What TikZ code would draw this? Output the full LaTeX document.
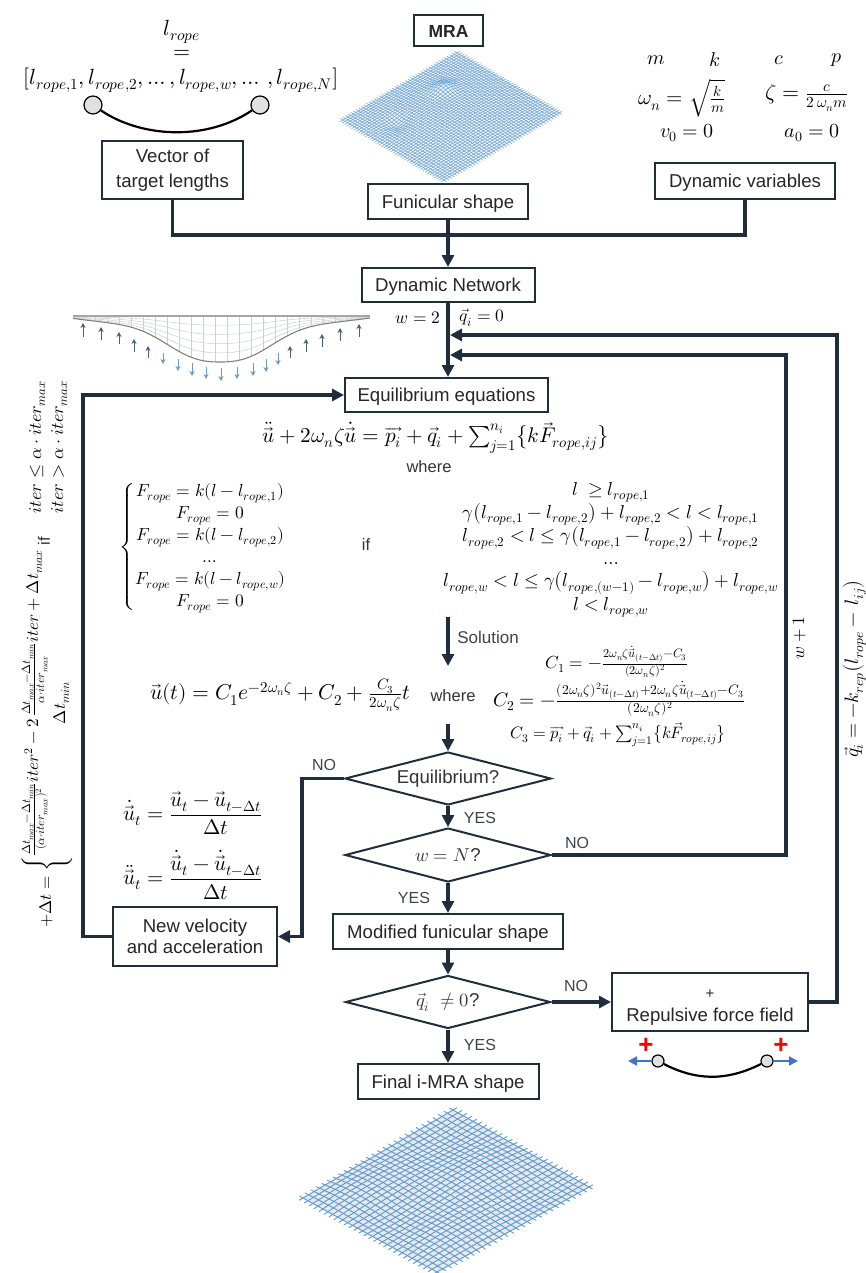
\documentclass[tikz,border=0pt]{standalone}
\usepackage{amsmath}
\usepackage{fontspec}
\usepackage{unicode-math}
\setmainfont{Liberation Sans}
\setmathfont{Latin Modern Math}
\usetikzlibrary{arrows.meta,shapes.geometric}
\definecolor{navy}{HTML}{1F2D3D}
\definecolor{labelc}{HTML}{3A444E}
\definecolor{meshb}{HTML}{5E9CD6}
\definecolor{secline}{HTML}{C8D0D8}
\definecolor{upc}{HTML}{46607A}
\definecolor{downc}{HTML}{6B9AC4}
\definecolor{bluearr}{HTML}{4472C4}
\newcommand{\fs}[1]{\fontsize{#1}{#1}\selectfont}
\newcommand{\rp}{\symit{rope}}
\newcommand{\lr}[1]{l_{\symit{rope},#1}}
\newcommand{\itr}{\symit{iter}}
\newcommand{\tmax}{\Delta t_{\symit{max}}}
\newcommand{\tmin}{\Delta t_{\symit{min}}}
\newcommand{\drawmesh}[2]{%
  \foreach \i in {0,...,#1}{%
    \pgfmathsetmacro\uu{\i/#1}%
    \draw[meshline,line width=#2] plot[domain=-0.025:1.025,samples=24,smooth] ({fx(\uu,\x)},{fy(\uu,\x)});
    \draw[meshline,line width=#2] plot[domain=-0.025:1.025,samples=24,smooth] ({fx(\x,\uu)},{fy(\x,\uu)});
  }}
\tikzset{
  x=1pt,y=-1pt,
  boxn/.style={draw=navy,line width=2pt,fill=white,align=center,font=\fs{18.6},text=black!85,inner sep=0pt,minimum height=#1},
  boxn/.default=35pt,
  oneline/.style={text height=13pt,text depth=0pt},
  dec/.style={diamond,draw=navy,line width=2pt,fill=white,aspect=3.85,font=\fs{18.6},inner sep=0pt,text=black!80},
  flow/.style={draw=navy,line width=3.2pt,-{Triangle[length=12pt,width=12pt]}},
  lab/.style={font=\fs{16},text=labelc,inner sep=0pt},
  eqn/.style={inner sep=0pt,font=\fs{20}},
  meshline/.style={draw=meshb,line cap=round},
  upa/.style={draw=#1,line width=1pt,-{Stealth[length=5pt,width=5pt]}},
  ropeline/.style={draw=black,line width=2.2pt},
  rend/.style={circle,draw=black,line width=1.2pt,fill=black!12,inner sep=0pt,minimum size=#1},
  wordlab/.style={font=\fs{16.5},text=black!80,inner sep=0pt},
}
\begin{document}
\begin{tikzpicture}
\useasboundingbox (0,0) rectangle (865,1273);

% ---- MRA mesh
\begin{scope}[opacity=0.85,declare function={
  fx(\u,\v)=(1-\u)*(1-\v)*457+\u*(1-\v)*559+(1-\u)*\v*343+\u*\v*444;
  fy(\u,\v)=(1-\u)*(1-\v)*53+\u*(1-\v)*113+(1-\u)*\v*120+\u*\v*180
     -3*sin(180*\u)*sin(180*\v)
     -5*exp(-((\u-0.25)^2+(\v-0.34)^2)/0.006)
     +3*exp(-((\u-0.30)^2+(\v-0.80)^2)/0.006);}]
  \fill[black!5] (457,53) -- (559,113) -- (444,180) -- (343,120) -- cycle;
  \drawmesh{44}{0.6pt}
\end{scope}
% ---- final mesh
\begin{scope}[declare function={
  fx(\u,\v)=(1-\u)*(1-\v)*453+\u*(1-\v)*589+(1-\u)*\v*303+\u*\v*437;
  fy(\u,\v)=(1-\u)*(1-\v)*1110+\u*(1-\v)*1187+(1-\u)*\v*1198+\u*\v*1272
     -3*sin(180*\u)*sin(180*\v)+1.5*sin(540*\u)*sin(360*\v);}]
  \fill[black!9] (453,1110) -- (589,1187) -- (437,1272) -- (303,1198) -- cycle;
  \drawmesh{27}{0.95pt}
\end{scope}

% ---- section sketch
\begin{scope}[declare function={prof(\x)=318+34*exp(-(abs(\x-220)/62)^2.6)+10*(1-((\x-220)/150)^2);}]
  \begin{scope}
    \clip plot[domain=73:370,samples=50] (\x,{prof(\x)}) -- (370,316) -- (73,316) -- cycle;
    \foreach \vx in {83,95,...,370}{\draw[secline,line width=0.5pt] (\vx,316) -- (\vx,370);}
  \end{scope}
  \foreach \tt in {0.2,0.4,0.6,0.8}{
    \draw[secline,line width=0.5pt] plot[domain=73:370,samples=40] (\x,{316+\tt*(prof(\x)-316)});}
  \draw[gray,line width=1.1pt] plot[domain=73:370,samples=50] (\x,{prof(\x)});
  \draw[gray!70,line width=1.8pt] (73,316) -- (370,316);
\end{scope}
\foreach \ax/\ya/\yb in {83/337/323,101/340/327,119/344/332,134/352/339,148/358/346,290/358/346,306/352/339,322/347/334,340/341/328,359/337/324}{
  \draw[upa=upc] (\ax,\ya) -- (\ax,\yb);}
\foreach \ax/\ya/\yb in {163/353/364,178/359/371,192/363/376,206/367/379,221/368/381,237/367/379,253/363/376,266/359/372,278/353/365}{
  \draw[upa=downc] (\ax,\ya) -- (\ax,\yb);}

% ---- boxes
\node[boxn=31pt,minimum width=69pt,font=\bfseries\fs{17.5}] (mra) at (448.5,31) {MRA};
\node[boxn=58pt,minimum width=141pt] (vec) at (172.5,170) {Vector of\\[6pt]target lengths};
\node[boxn=35pt,minimum width=160pt,oneline] (fun) at (448,202) {Funicular shape};
\node[boxn=36pt,minimum width=180pt,oneline] (dyv) at (745,181) {Dynamic variables};
\node[boxn=34pt,minimum width=173pt,oneline] (net) at (448,285) {Dynamic Network};
\node[boxn=34pt,minimum width=203pt,oneline] (equ) at (446.5,395) {Equilibrium equations};
\node[dec,minimum width=206pt,minimum height=53pt] (eqd) at (448,778.5) {Equilibrium?};
\node[dec,minimum width=206pt,minimum height=54pt] (wnd) at (448,855) {\(w=N\)?};
\node[boxn=35pt,minimum width=230pt,oneline] (mod) at (448,931.5) {Modified funicular shape};
\node[boxn=59pt,minimum width=164pt] (vel) at (195,936.5) {New velocity\\[3pt]and acceleration};
\node[dec,minimum width=205pt,minimum height=53pt] (qd) at (448,1002) {\(\vec q_i\ \neq 0\)?};
\node[boxn=58pt,minimum width=196pt] (rep) at (710,1002) {\rule{0pt}{20pt}\fs{15}+\\[4pt]Repulsive force field};
\node[boxn=35pt,minimum width=181pt,oneline] (fin) at (448,1081.5) {Final i-MRA shape};

% ---- free coordinates
\coordinate (j) at (448,235);
\coordinate (e1) at (450,335);
\coordinate (e2) at (450,355);
\coordinate (r1) at (786,355);
\coordinate (r1b) at (786,855);
\coordinate (r2) at (837,335);
\coordinate (r2b) at (837,1002);
\coordinate (l1) at (83,395);
\coordinate (l1b) at (83,936.5);
\coordinate (n1) at (302,778.5);
\coordinate (n1b) at (302,936.5);
\coordinate (s1) at (448,617);
\coordinate (s2) at (448,666);
\coordinate (s3) at (448,724);

% ---- connectors
\draw[draw=navy,line width=3.2pt] (vec.south) |- (j) -| (dyv.south);
\draw[flow] (fun.south) -- (net.north);
\draw[flow] (net.south) -- (equ.north -| net.south);
\draw[flow] (rep.east) -- (r2b) -- (r2) -- (e1);
\draw[flow] (wnd.east) -- (r1b) -- (r1) -- (e2);
\draw[flow] (vel.west) -- (l1b) -- (l1) -- (equ.west);
\draw[flow] (s1) -- (s2);
\draw[flow] (s3) -- (eqd.north);
\draw[flow] (eqd.west) -- (n1) -- (n1b) -- (vel.east);
\draw[flow] (eqd.south) -- (wnd.north);
\draw[flow] (wnd.south) -- (mod.north);
\draw[flow] (mod.south) -- (qd.north);
\draw[flow] (qd.east) -- (rep.west);
\draw[flow] (qd.south) -- (fin.north);

% ---- branch labels
\node[lab] (ln1) at (324,765) {NO};
\node[lab] (ly1) at (480,818) {YES};
\node[lab] (ln2) at (577,843) {NO};
\node[lab] (ly2) at (414,898) {YES};
\node[lab] (ln3) at (576,986) {NO};
\node[lab] (ly3) at (480,1045) {YES};
\node[lab,font=\fs{17}] (sol) at (488,637) {Solution};

% ---- rope top
\node[rend=18pt] (ra) at (93,105) {};
\node[rend=18pt] (rb) at (260,105) {};
\draw[ropeline] (ra) .. controls (140,137) and (205,142) .. (rb);
% ---- rope bottom
\node[rend=12pt] (rc) at (658,1061) {};
\node[rend=12pt] (rd) at (767,1061) {};
\draw[ropeline] (rc) .. controls (695,1080) and (725,1082) .. (rd);
\coordinate (ba) at (628,1061);
\coordinate (bb) at (798,1061);
\draw[draw=bluearr,line width=2pt,-{Triangle[length=9pt,width=9pt]}] (rc) -- (ba);
\draw[draw=bluearr,line width=2pt,-{Triangle[length=9pt,width=9pt]}] (rd) -- (bb);
\node[inner sep=0pt,text=red,font=\bfseries\fs{26}] (pa) at (646,1046) {+};
\node[inner sep=0pt,text=red,font=\bfseries\fs{26}] (pb) at (781,1046) {+};

% ---- top formulas
\node[eqn,font=\fs{22}] (t1) at (182,32) {\(l_{\rp}\)};
\node[eqn,font=\fs{22}] (t2) at (182,54) {\(=\)};
\node[eqn,font=\fs{22}] (t3) at (181,80) {\([\lr{1},\lr{2},\dots,\lr{w},\dots\,,\lr{N}]\)};
\node[eqn] (vm) at (656,60) {\(m\)};
\node[eqn] (vk) at (715,60) {\(k\)};
\node[eqn] (vc) at (779,60) {\(c\)};
\node[eqn] (vp) at (837,60) {\(p\)};
\node[eqn,font=\fs{21}] (om) at (682,98) {\(\omega_n=\sqrt{\frac{k}{m}}\)};
\node[eqn,font=\fs{22}] (ze) at (807,98) {\(\zeta=\frac{c}{2\,\omega_n m}\)};
\node[eqn] (v0) at (687,133) {\(v_0=0\)};
\node[eqn] (a0) at (812,133) {\(a_0=0\)};

% ---- flow labels
\node[eqn,font=\fs{17.5}] (w2) at (418,318) {\(w=2\)};
\node[eqn,font=\fs{17.5}] (q0) at (482,318) {\(\vec q_i=0\)};
\node[eqn,rotate=90,font=\fs{17.5}] (wp) at (799,638) {\(w+1\)};
\node[eqn,rotate=90,font=\fs{19.4}] (qf) at (854,669) {\(\vec q_i=-k_{\symit{rep}}\bigl(l_{\rp}-\,l_{ij}\bigr)\)};

% ---- equilibrium equations
\node[eqn,font=\fs{21.2}] (me) at (436,438) {\(\ddot{\vec u}+2\omega_n\zeta\dot{\vec u}=\overrightarrow{p_i}+\vec q_i+\sum_{j=1}^{n_i}\bigl\{k\vec F_{\rp,ij}\bigr\}\)};
\node[wordlab] (wh) at (429,467) {where};
\node[eqn,font=\fs{17.5}] (pl) at (203,547) {\(\renewcommand{\arraystretch}{1.26}\left\{\begin{array}{@{}c@{}}
  F_{\rp}=k(l-\lr{1})\\ F_{\rp}=0\\ F_{\rp}=k(l-\lr{2})\\ \dots\\ F_{\rp}=k(l-\lr{w})\\ F_{\rp}=0\end{array}\right.\)};
\node[wordlab] (ifa) at (366,545) {if};
\node[eqn,font=\fs{18.8}] (pr) at (611,548.5) {\(\renewcommand{\arraystretch}{1.18}\begin{array}{@{}c@{}}
  l\ \ge \lr{1}\\
  \gamma\bigl(\lr{1}-\lr{2}\bigr)+\lr{2}<l<\lr{1}\\
  \lr{2}<l\le\gamma\bigl(\lr{1}-\lr{2}\bigr)+\lr{2}\\
  \dots\\
  \lr{w}<l\le\gamma\bigl(l_{\rp,(w-1)}-\lr{w}\bigr)+\lr{w}\\
  l<\lr{w}\end{array}\)};

% ---- solution
\node[eqn,font=\fs{21.5}] (so) at (280,695) {\(\vec u(t)=C_1e^{-2\omega_n\zeta}+C_2+\frac{C_3}{2\omega_n\zeta}t\)};
\node[wordlab] (wh2) at (453,696) {where};
\node[eqn,font=\fs{17.5}] (c1) at (617,662) {\(C_1=-\frac{2\omega_n\zeta\dot{\vec u}_{(t-\Delta t)}-C_3}{(2\omega_n\zeta)^2}\)};
\node[eqn,font=\fs{19.5}] (c2) at (619,699) {\(C_2=-\frac{(2\omega_n\zeta)^2\vec u_{(t-\Delta t)}+2\omega_n\zeta\dot{\vec u}_{(t-\Delta t)}-C_3}{(2\omega_n\zeta)^2}\)};
\node[eqn,font=\fs{16.5}] (c3) at (618,735) {\(C_3=\overrightarrow{p_i}+\vec q_i+\sum_{j=1}^{n_i}\bigl\{k\vec F_{\rp,ij}\bigr\}\)};

% ---- velocity
\node[eqn,font=\fs{21}] (vu) at (193,813) {\(\dot{\vec u}_t=\dfrac{\vec u_t-\vec u_{t-\Delta t}}{\Delta t}\)};
\node[eqn,font=\fs{21}] (vd) at (193,875) {\(\ddot{\vec u}_t=\dfrac{\dot{\vec u}_t-\dot{\vec u}_{t-\Delta t}}{\Delta t}\)};

% ---- rotated time step
\node[eqn,rotate=90,font=\fs{17}] (dt) at (47,738) {\(+\Delta t=\renewcommand{\arraystretch}{1.5}\left\{\begin{array}{@{}c@{}}
  \frac{\tmax-\tmin}{(\alpha\cdot\itr_{\symit{max}})^2}\itr^2-2\,\frac{\tmax-\tmin}{\alpha\cdot\itr_{\symit{max}}}\itr+\tmax\\
  \tmin\end{array}\right.\)};
\node[wordlab,rotate=90] (ifb) at (44,541) {if};
\node[eqn,rotate=90,font=\fs{18}] (cd) at (48,447) {\(\renewcommand{\arraystretch}{1.2}\begin{array}{@{}c@{}}
  \itr\le\alpha\cdot\itr_{\symit{max}}\\ \itr>\alpha\cdot\itr_{\symit{max}}\end{array}\)};
\end{tikzpicture}
\end{document}
